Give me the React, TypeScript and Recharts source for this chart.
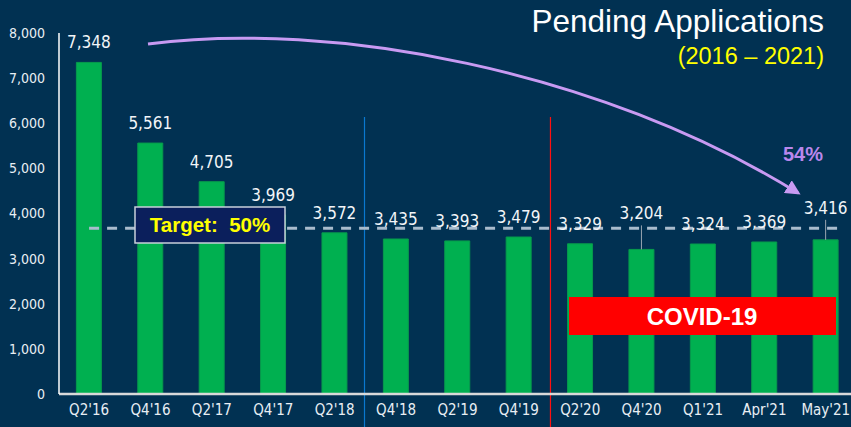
import React from "react";
import { BarChart, Bar, XAxis, YAxis, ReferenceLine } from "recharts";

// pending applications per period
const categories = [
  "Q2'16", "Q4'16", "Q2'17", "Q4'17", "Q2'18", "Q4'18", "Q2'19",
  "Q4'19", "Q2'20", "Q4'20", "Q1'21", "Apr'21", "May'21",
];
const pending = [7348, 5561, 4705, 3969, 3572, 3435, 3393, 3479, 3329, 3204, 3324, 3369, 3416];
const yTicks = [0, 1000, 2000, 3000, 4000, 5000, 6000, 7000, 8000];
const targetPct = 50;
const reductionLabel = "54%";

const target = (pending[0] * targetPct) / 100;

// labels that sit higher with a leader line
const raisedLabels: Record<string, number> = { "Q4'20": 16, "May'21": 12 };

const BG = "#013152";
const BAR = "#00B050";
const PURPLE = "#C89AF2";
const TICK_FONT = "'DejaVu Sans Condensed', 'DejaVu Sans', sans-serif";
const ARIAL = "'Liberation Sans', Arial, sans-serif";

const data = categories.map((name, i) => ({ idx: i, name, value: pending[i] }));

function DataLabel(props: any) {
  const { x, y, width, value } = props;
  const i = pending.indexOf(value);
  const name = categories[i];
  const extra = raisedLabels[name] || 0;
  const cx = x + width / 2;
  const base = y - 14 - extra;
  return (
    <g>
      {extra > 0 && (
        <line x1={cx} x2={cx} y1={base + 6} y2={y} stroke="#9AA5B1" strokeWidth={1} />
      )}
      <text
        x={cx}
        y={base}
        textAnchor="middle"
        fill="#F2F5F8"
        fontSize={17}
        fontFamily={TICK_FONT}
      >
        {value.toLocaleString("en-US")}
      </text>
    </g>
  );
}

export default function App() {
  return (
    <div
      style={{
        position: "absolute",
        left: 0,
        top: 0,
        width: 851,
        height: 427,
        background: BG,
        overflow: "hidden",
      }}
    >
      <BarChart
        width={851}
        height={427}
        data={data}
        margin={{ top: 33, right: 0, left: 0, bottom: 0 }}
      >
        <XAxis
          dataKey="idx"
          type="number"
          domain={[-0.49, 12.41]}
          ticks={categories.map((_, i) => i)}
          interval={0}
          tickFormatter={(v) => categories[v] ?? ""}
          height={33}
          tickSize={0}
          tickMargin={10}
          axisLine={{ stroke: "#D9D9D9", strokeWidth: 2.5 }}
          tick={{ fill: "#E8EEF4", fontSize: 15, fontFamily: TICK_FONT }}
        />
        <YAxis
          domain={[0, 8000]}
          ticks={yTicks}
          width={59}
          tickSize={0}
          tickMargin={14}
          tickLine={false}
          axisLine={{ stroke: "#FFFFFF", strokeWidth: 1.5 }}
          tickFormatter={(v) => v.toLocaleString("en-US")}
          tick={{ fill: "#E8EEF4", fontSize: 14, fontFamily: TICK_FONT }}
        />
        <Bar
          dataKey="value"
          fill={BAR}
          stroke="#079A4C"
          strokeWidth={1}
          barSize={25}
          isAnimationActive={false}
          label={<DataLabel />}
        />
        <ReferenceLine
          ifOverflow="visible"
          segment={[
            { x: 4.486, y: -735 },
            { x: 4.486, y: 6140 },
          ]}
          stroke="#0A78D0"
          strokeWidth={1.2}
        />
        <ReferenceLine
          ifOverflow="visible"
          segment={[
            { x: 7.515, y: -735 },
            { x: 7.515, y: 6140 },
          ]}
          stroke="#FF1010"
          strokeWidth={1.2}
        />
        <ReferenceLine
          ifOverflow="visible"
          segment={[
            { x: 0, y: target },
            { x: 12.23, y: target },
          ]}
          stroke="#A9BCCD"
          strokeWidth={3}
          strokeDasharray="10 8"
        />
      </BarChart>

      <svg
        width={851}
        height={427}
        style={{ position: "absolute", left: 0, top: 0, pointerEvents: "none" }}
      >
        <defs>
          <marker
            id="arrowHead"
            viewBox="0 0 10 10"
            refX={8}
            refY={5}
            markerWidth={5}
            markerHeight={5}
            orient="auto"
          >
            <path d="M0,0 L10,5 L0,10 z" fill={PURPLE} />
          </marker>
        </defs>
        <text
          x={824}
          y={32}
          textAnchor="end"
          fill="#FFFFFF"
          fontSize={31.5}
          fontFamily={ARIAL}
        >
          Pending Applications
        </text>
        <text
          x={824}
          y={64}
          textAnchor="end"
          fill="#FFFF00"
          fontSize={23.5}
          fontFamily={ARIAL}
        >
          (2016 – 2021)
        </text>
        <path
          d="M148,44 C330,20 600,70 798,193"
          fill="none"
          stroke={PURPLE}
          strokeWidth={3}
          markerEnd="url(#arrowHead)"
        />
        <text
          x={803}
          y={161}
          textAnchor="middle"
          fill="#B987EC"
          fontSize={20}
          fontWeight={700}
          fontFamily={ARIAL}
        >
          {reductionLabel}
        </text>
        <rect
          x={135}
          y={207}
          width={150}
          height={36}
          fill="#0B1F5C"
          stroke="#C8CFDA"
          strokeWidth={1.5}
        />
        <text
          x={210}
          y={232}
          textAnchor="middle"
          fill="#FFFF00"
          fontSize={20.5}
          fontWeight={700}
          fontFamily={ARIAL}
          xmlSpace="preserve"
        >
          {`Target:  ${targetPct}%`}
        </text>
        <rect x={569} y={297} width={267} height={38} fill="#FF0000" />
        <text
          x={702}
          y={325}
          textAnchor="middle"
          fill="#FFFFFF"
          fontSize={24}
          fontWeight={700}
          fontFamily={ARIAL}
        >
          COVID-19
        </text>
      </svg>
    </div>
  );
}
